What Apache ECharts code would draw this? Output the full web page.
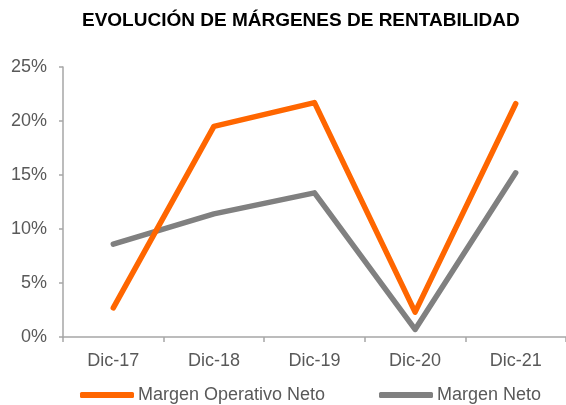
<!DOCTYPE html>
<html>
<head>
<meta charset="utf-8">
<script src="https://cdn.jsdelivr.net/npm/echarts@6/dist/echarts.min.js"></script>
<style>
  html, body { margin: 0; padding: 0; background: #fff; }
  #chart { width: 566px; height: 405px; }
</style>
</head>
<body>
<div id="chart"></div>
<script>
const categories = ['Dic-17', 'Dic-18', 'Dic-19', 'Dic-20', 'Dic-21']
const margenOperativo = [2.7, 19.5, 21.7, 2.3, 21.6]
const margenNeto = [8.6, 11.4, 13.35, 0.7, 15.2]
const seriesNames = ['Margen Operativo Neto', 'Margen Neto']

const ORANGE = '#ff6600'
const GREY = '#808080'
const TEXT = '#595959'
const FONT = 'Liberation Sans, Arial, sans-serif'

const chart = echarts.init(document.getElementById('chart'), null, { renderer: 'canvas' })

chart.setOption({
  animation: false,
  title: {
    text: 'EVOLUCIÓN DE MÁRGENES DE RENTABILIDAD',
    left: 77,
    top: 6,
    textStyle: { color: '#000', fontSize: 19, fontWeight: 'bold', fontFamily: FONT }
  },
  legend: [
    {
      data: [seriesNames[0]],
      left: 75,
      top: 381,
      icon: 'roundRect',
      itemWidth: 54,
      itemHeight: 6,
      itemGap: 0,
      textStyle: { color: TEXT, fontSize: 18, fontFamily: FONT, padding: [0, 0, 0, -1] }
    },
    {
      data: [seriesNames[1]],
      left: 374,
      top: 381,
      icon: 'roundRect',
      itemWidth: 54,
      itemHeight: 6,
      itemGap: 0,
      textStyle: { color: TEXT, fontSize: 18, fontFamily: FONT, padding: [0, 0, 0, -1] }
    }
  ],
  grid: { left: 63, right: 0, top: 67, bottom: 68, containLabel: false },
  xAxis: {
    type: 'category',
    data: categories,
    boundaryGap: true,
    axisLine: { lineStyle: { color: '#a6a6a6', width: 1.5 } },
    axisTick: { show: true, length: 5, lineStyle: { color: '#a6a6a6', width: 1.5 } },
    axisLabel: { color: TEXT, fontSize: 18, fontFamily: FONT, margin: 15 }
  },
  yAxis: {
    type: 'value',
    min: 0,
    max: 25,
    interval: 5,
    axisLine: { show: true, lineStyle: { color: '#a6a6a6', width: 1.5 } },
    axisTick: { show: true, length: 4, lineStyle: { color: '#a6a6a6', width: 1.5 } },
    splitLine: { show: false },
    axisLabel: { color: TEXT, fontSize: 18, fontFamily: FONT, margin: 16, formatter: '{value}%' }
  },
  series: [
    {
      name: seriesNames[0],
      type: 'line',
      data: margenOperativo,
      symbol: 'none',
      color: ORANGE,
      lineStyle: { color: ORANGE, width: 5.5, cap: 'round', join: 'round' }
    },
    {
      name: seriesNames[1],
      type: 'line',
      data: margenNeto,
      symbol: 'none',
      color: GREY,
      z: 1,
      lineStyle: { color: GREY, width: 5.5, cap: 'round', join: 'round' }
    }
  ]
})
</script>
</body>
</html>
